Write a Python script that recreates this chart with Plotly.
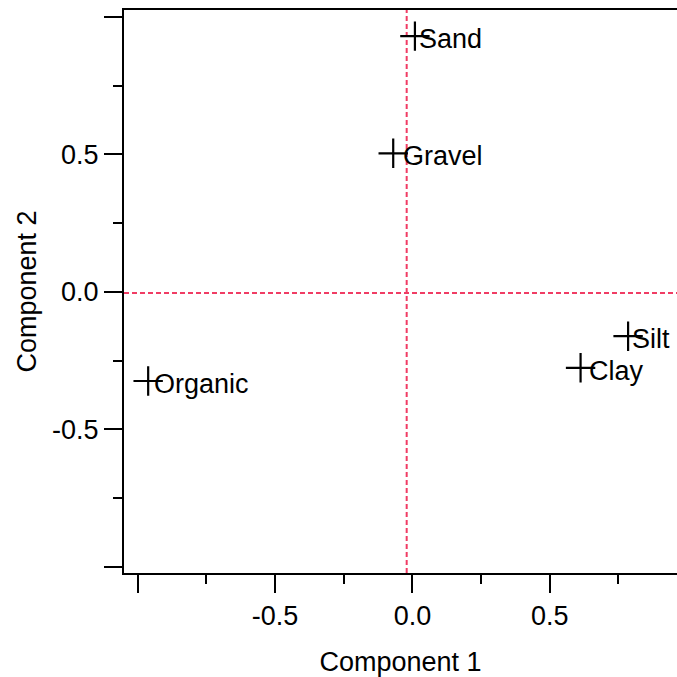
import plotly.graph_objects as go

# Data
labels = ["Sand", "Gravel", "Organic", "Silt", "Clay"]
comp1 = [0.009, -0.070, -0.962, 0.785, 0.612]
comp2 = [0.930, 0.504, -0.324, -0.161, -0.276]

ref_x = -0.021   # vertical dashed reference line
ref_y = -0.004   # horizontal dashed reference line

tick_vals = [-1.0, -0.5, 0.0, 0.5, 1.0]
tick_text = ["", "-0.5", "0.0", "0.5", ""]

x_range = [-1.050, 0.963]
y_range = [-1.022, 1.025]

FONT = "Liberation Sans, Arial, sans-serif"
FS = 27
RED = "#F03C64"

fig = go.Figure()

fig.add_trace(go.Scatter(
    x=[ref_x, ref_x], y=y_range, mode="lines",
    line=dict(color=RED, width=2, dash="5px,3px"), hoverinfo="skip", showlegend=False))
fig.add_trace(go.Scatter(
    x=x_range, y=[ref_y, ref_y], mode="lines",
    line=dict(color=RED, width=2, dash="5px,3px"), hoverinfo="skip", showlegend=False))

fig.add_trace(go.Scatter(
    x=comp1, y=comp2, mode="markers",
    marker=dict(symbol="cross-thin", size=21, line=dict(color="black", width=2.2), color="black"),
    showlegend=False))

label_dx = [2, 8, 4, 2, 6]
for lab, xv, yv, dx in zip(labels, comp1, comp2, label_dx):
    fig.add_annotation(x=xv, y=yv, text=lab, showarrow=False, xanchor="left", yanchor="middle",
                       xshift=dx, yshift=-3, font=dict(family=FONT, size=FS, color="black"))

axis_common = dict(
    showgrid=False, zeroline=False, showline=True, linecolor="black", linewidth=2,
    ticks="outside", ticklen=18, tickwidth=2, tickcolor="black",
    tickvals=tick_vals, ticktext=tick_text,
    tickfont=dict(family=FONT, size=FS, color="black"),
    minor=dict(dtick=0.25, tick0=0, ticks="outside", ticklen=9, tickwidth=2, tickcolor="black", showgrid=False),
)

fig.update_layout(
    width=677, height=677,
    margin=dict(l=124, r=0, t=10, b=104),
    paper_bgcolor="white", plot_bgcolor="white",
    xaxis=dict(range=x_range, mirror=True,
               title=dict(text="Component 1", font=dict(family=FONT, size=FS, color="black"), standoff=22),
               **axis_common),
    yaxis=dict(range=y_range,
               title=dict(text="Component 2", font=dict(family=FONT, size=FS, color="black"), standoff=8),
               **axis_common),
)

fig.write_html("out.html")
